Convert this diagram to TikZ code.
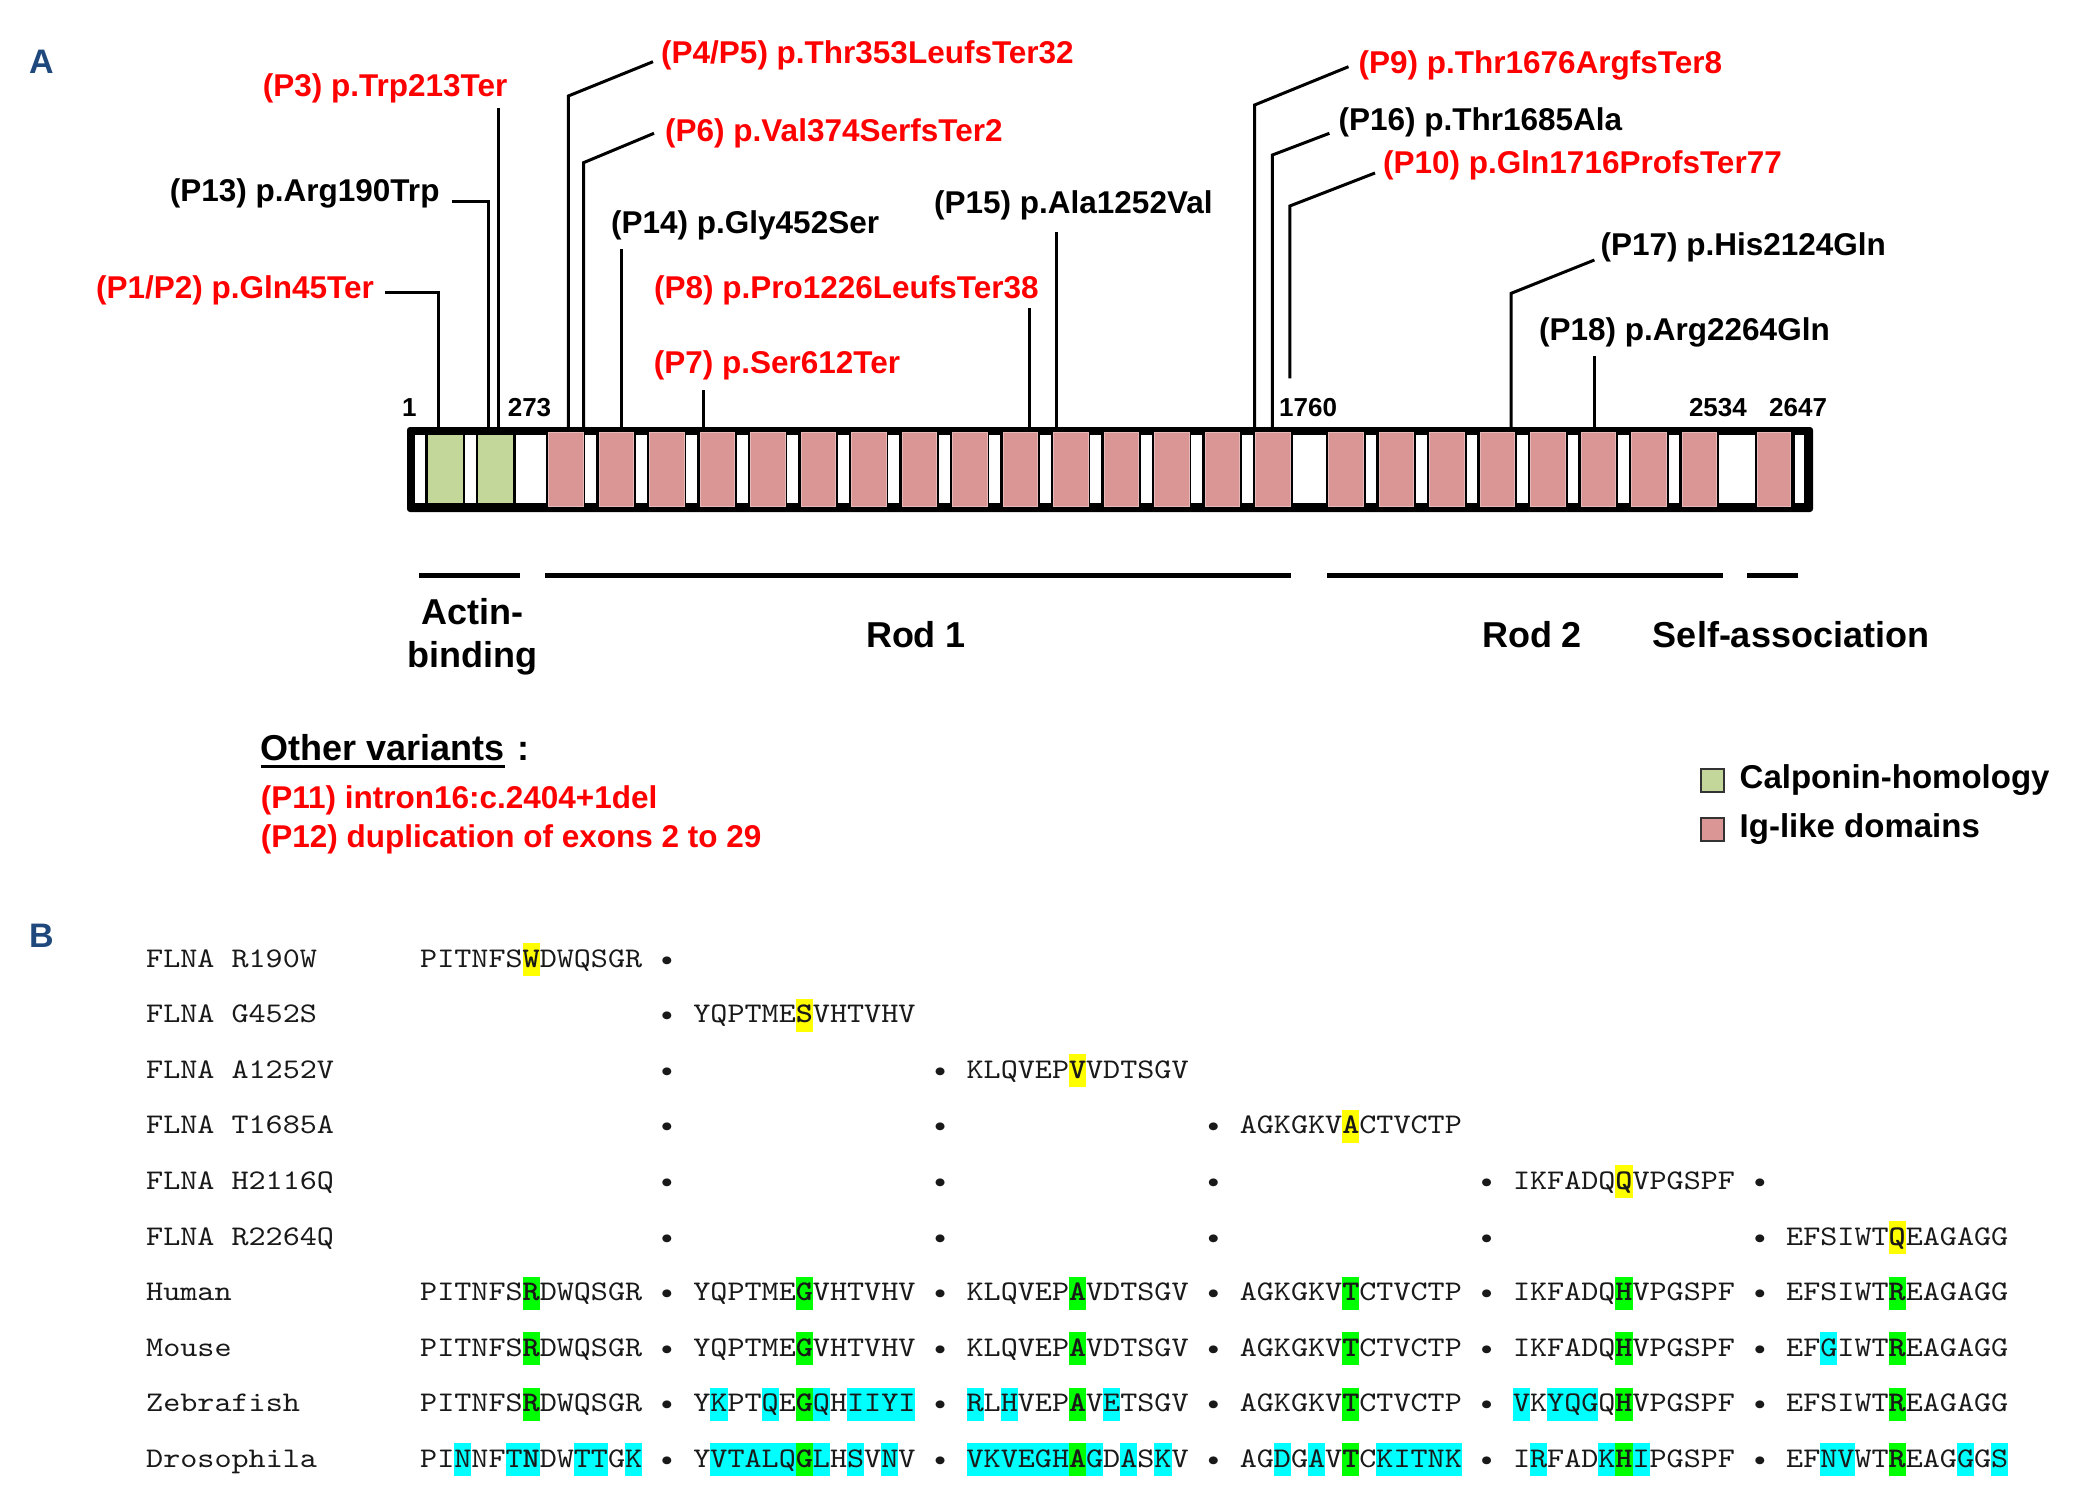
\documentclass[tikz,border=0pt]{standalone}
\usepackage{fontspec}
\setmainfont{Liberation Sans}
\newfontfamily\seqfont{lmmono10-regular}[Extension=.otf, BoldFont=lmmonolt10-bold, FakeStretch=1.143]
\usetikzlibrary{calc}
\usetikzlibrary{positioning}

\definecolor{chfill}{HTML}{C4D79B}
\definecolor{igfill}{HTML}{DA9694}
\definecolor{igedge}{HTML}{E6B8B7}
\definecolor{panelblue}{HTML}{1F497D}
\definecolor{mutred}{HTML}{FF0000}
\definecolor{hlyellow}{HTML}{FFFF00}
\definecolor{hlgreen}{HTML}{00FF00}
\definecolor{hlcyan}{HTML}{00FFFF}

% highlighted residues
\newcommand{\hlbox}[2]{{\setlength{\fboxsep}{0pt}\colorbox{#1}{\rule[-9pt]{0pt}{33pt}#2}}}
\newcommand{\hy}[1]{\hlbox{hlyellow}{\textbf{#1}}}
\newcommand{\hg}[1]{\hlbox{hlgreen}{\textbf{#1}}}
\newcommand{\hc}[1]{\hlbox{hlcyan}{#1}}
\newcommand{\hcb}[1]{\hlbox{hlcyan}{\textbf{#1}}}

\tikzset{
	mut/.style={font=\bfseries\fontsize{31.5}{36}\selectfont, inner sep=3pt},
	redmut/.style={mut, text=mutred},
	lead/.style={line width=3pt},
	posnum/.style={font=\bfseries\fontsize{26}{30}\selectfont, inner sep=0pt, anchor=base west},
	domlabel/.style={font=\bfseries\fontsize{36}{43}\selectfont, inner sep=0pt, align=center},
	domline/.style={line width=5.5pt},
	igbox/.style={fill=igfill, draw=igedge, line width=0.8pt},
	legbox/.style={draw=black!80, line width=2pt, minimum size=23pt, inner sep=0pt},
	legtxt/.style={font=\bfseries\fontsize{33}{38}\selectfont, inner sep=0pt, anchor=west},
	panel/.style={font=\bfseries\fontsize{34}{40}\selectfont, text=panelblue, inner sep=0pt, anchor=base west},
	seqtxt/.style={font=\seqfont\fontsize{28.46}{34}\selectfont, text=black!90, inner sep=0pt, anchor=base west},
	seqdot/.style={seqtxt, anchor=base},
}

% one full alignment row: prefix, baseline, name, six blocks
\newcommand{\alnrow}[9]{
	\node[seqtxt] (#1n) at (146,#2) {#3};
	\node[seqtxt] (#1a) at (420,#2) {#4};
	\node[seqtxt] (#1b) at (693.2,#2) {#5};
	\node[seqtxt] (#1c) at (966.4,#2) {#6};
	\node[seqtxt] (#1d) at (1239.6,#2) {#7};
	\node[seqtxt] (#1e) at (1512.8,#2) {#8};
	\node[seqtxt] (#1f) at (1786,#2) {#9};
	\foreach \k in {0,...,4}
		\node[seqdot] (#1dot\k) at ({667+273.2*\k},#2) {\textbullet};
}

\begin{document}
\begin{tikzpicture}[x=1pt, y=-1pt]
	\fill[white] (0,0) rectangle (2083,1494);
	\useasboundingbox (0,0) rectangle (2083,1494);

	\node[panel] (pA) at (29,73) {A};

	% protein bar
	\fill[black, rounded corners=3pt] (407,427) rectangle (1813,512);
	\fill[white] (415.2,435) rectangle (425.2,503.3);
	\fill[chfill] (427.8,435) rectangle (462.7,503.3);
	\fill[white] (465,435) rectangle (475.7,503.3);
	\fill[chfill] (478.4,435) rectangle (512.8,503.3);
	\fill[white] (515.5,435) rectangle (545.7,503.3);
	\foreach \k in {0,...,14}
		\filldraw[igbox] ({548.4+50.5*\k},432.7) rectangle ++(34.5,74);
	\foreach \k in {0,...,13}
		\fill[white] ({585.4+50.5*\k},435) rectangle ++(10.7,68.3);
	\fill[white] (1292.5,435) rectangle (1325.8,503.3);
	\foreach \k in {0,...,7}
		\filldraw[igbox] ({1328.5+50.5*\k},432.7) rectangle ++(34.5,74);
	\foreach \k in {0,...,6}
		\fill[white] ({1365.5+50.5*\k},435) rectangle ++(10.7,68.3);
	\fill[white] (1719.3,435) rectangle (1754.7,503.3);
	\filldraw[igbox] (1757.3,432.7) rectangle (1790.7,506.7);
	\fill[white] (1794.7,435) rectangle (1804,503.3);

	% positions on the bar
	\coordinate (m12) at (438.4,429);
	\coordinate (m13) at (488.8,429);
	\coordinate (m3) at (498.7,429);
	\coordinate (m45) at (568.3,429);
	\coordinate (m6) at (583.5,429);
	\coordinate (m14) at (621.9,429);
	\coordinate (m7) at (703.6,429);
	\coordinate (m8) at (1029.6,429);
	\coordinate (m15) at (1056.6,429);
	\coordinate (m9) at (1254.6,429);
	\coordinate (m16) at (1272.4,429);
	\coordinate (m10) at (1289.8,378.3);
	\coordinate (m17) at (1511.2,429);
	\coordinate (m18) at (1594.2,429);

	% variant labels
	\node[redmut, anchor=base east] (p12) at (377,298.3) {(P1/P2) p.Gln45Ter};
	\node[mut, anchor=base east] (p13) at (442.7,201.7) {(P13) p.Arg190Trp};
	\node[redmut, anchor=base east] (p3) at (510.6,96.7) {(P3) p.Trp213Ter};
	\node[redmut, anchor=base west] (p45) at (658,63.3) {(P4/P5) p.Thr353LeufsTer32};
	\node[redmut, anchor=base west] (p6) at (662,141.7) {(P6) p.Val374SerfsTer2};
	\node[mut, anchor=base west] (p14) at (608,233) {(P14) p.Gly452Ser};
	\node[mut, anchor=base west] (p15) at (931,213) {(P15) p.Ala1252Val};
	\node[redmut, anchor=base east] (p8) at (1041.8,298) {(P8) p.Pro1226LeufsTer38};
	\node[redmut, anchor=base west] (p7) at (650.6,373) {(P7) p.Ser612Ter};
	\node[redmut, anchor=base west] (p9) at (1355.5,73.3) {(P9) p.Thr1676ArgfsTer8};
	\node[mut, anchor=base west] (p16) at (1335.4,130) {(P16) p.Thr1685Ala};
	\node[redmut, anchor=base west] (p10) at (1380,173) {(P10) p.Gln1716ProfsTer77};
	\node[mut, anchor=base west] (p17) at (1597.4,255) {(P17) p.His2124Gln};
	\node[mut, anchor=base west] (p18) at (1536,340) {(P18) p.Arg2264Gln};

	% leader lines
	\draw[lead] (m12) |- ([shift={(8pt,5.6pt)}]p12.base east);
	\draw[lead] (m13) |- ([xshift=9pt]p13.base east);
	\draw[lead, shorten >=2pt] (m3) -- (m3 |- p3.south);
	\draw[lead] (m45) -- ++(0,-333) -- ([shift={(-5pt,1.6pt)}]p45.base west);
	\draw[lead] (m6) -- ++(0,-266.3) -- ([shift={(-8pt,8.4pt)}]p6.base west);
	\draw[lead, shorten >=6.7pt] (m14) -- (m14 |- p14.south);
	\draw[lead, shorten >=7.4pt] (m7) -- (m7 |- p7.south);
	\draw[lead, shorten >=0.4pt] (m8) -- (m8 |- p8.south);
	\draw[lead, shorten >=9pt] (m15) -- (m15 |- p15.south);
	\draw[lead] (m9) -- ++(0,-324) -- ([shift={(-7pt,6.6pt)}]p9.base west);
	\draw[lead] (m16) -- ++(0,-274) -- ([shift={(-6pt,-3.3pt)}]p16.base west);
	\draw[lead] (m10) -- ++(0,-172.3) -- ([xshift=-5pt]p10.base west);
	\draw[lead] (m17) -- ++(0,-135.7) -- ([shift={(-3pt,-5pt)}]p17.base west);
	\draw[lead, shorten >=6.4pt] (m18) -- (m18 |- p18.south);

	% residue numbers
	\node[posnum] (n1) at (401.8,416.7) {1};
	\node[posnum] (n273) at (507.6,416.7) {273};
	\node[posnum] (n1760) at (1279,416.7) {1760};
	\node[posnum] (n2534) at (1688.8,416.7) {2534};
	\node[posnum] (n2647) at (1769,416.7) {2647};

	% domains
	\draw[domline] (418.8,575.5) -- (519.8,575.5);
	\draw[domline] (545.3,575.5) -- (1291.2,575.5);
	\draw[domline] (1327,575.5) -- (1722.9,575.5);
	\draw[domline] (1747.4,575.5) -- (1798.4,575.5);
	\node[domlabel, anchor=north] (dact) at (472,598) {Actin-\\binding};
	\node[domlabel, anchor=base] (drod1) at (916,647) {Rod 1};
	\node[domlabel, anchor=base] (drod2) at (1532,647) {Rod 2};
	\node[domlabel, anchor=base] (dself) at (1791,647) {Self-association};

	% other variants
	\node[domlabel, anchor=base west] (ov) at (260.6,760) {Other variants};
	\draw[line width=3.3pt] ([yshift=-6.5pt]ov.base west) -- ([yshift=-6.5pt]ov.base east);
	\node[domlabel, anchor=base west] (ovc) at (517,760) {:};
	\node[redmut, anchor=base west] (p11) at (257.6,808) {(P11) intron16:c.2404+1del};
	\node[redmut, anchor=base west] (p12x) at (257.6,847) {(P12) duplication of exons 2 to 29};

	% legend
	\node[legbox, fill=chfill] (lgch) at (1712,780) {};
	\node[legtxt, right=15pt of lgch] (lgcht) {Calponin-homology};
	\node[legbox, fill=igfill] (lgig) at (1712,829) {};
	\node[legtxt, right=15pt of lgig] (lgigt) {Ig-like domains};

	\node[panel] (pB) at (29,947) {B};

	% variant rows
	\node[seqtxt] (v1n) at (146,967) {FLNA R190W};
	\node[seqtxt] (v1a) at (420,967) {PITNFS\hy{W}DWQSGR};
	\node[seqdot] (v1dot0) at (667,967) {\textbullet};

	\node[seqtxt] (v2n) at (146,1022.6) {FLNA G452S};
	\node[seqdot] (v2dot0) at (667,1022.6) {\textbullet};
	\node[seqtxt] (v2b) at (693.2,1022.6) {YQPTME\hy{S}VHTVHV};

	\node[seqtxt] (v3n) at (146,1078.2) {FLNA A1252V};
	\foreach \k in {0,1}
		\node[seqdot] (v3dot\k) at ({667+273.2*\k},1078.2) {\textbullet};
	\node[seqtxt] (v3c) at (966.4,1078.2) {KLQVEP\hy{V}VDTSGV};

	\node[seqtxt] (v4n) at (146,1133.8) {FLNA T1685A};
	\foreach \k in {0,1,2}
		\node[seqdot] (v4dot\k) at ({667+273.2*\k},1133.8) {\textbullet};
	\node[seqtxt] (v4d) at (1239.6,1133.8) {AGKGKV\hy{A}CTVCTP};

	\node[seqtxt] (v5n) at (146,1189.4) {FLNA H2116Q};
	\foreach \k in {0,...,4}
		\node[seqdot] (v5dot\k) at ({667+273.2*\k},1189.4) {\textbullet};
	\node[seqtxt] (v5e) at (1512.8,1189.4) {IKFADQ\hy{Q}VPGSPF};

	\node[seqtxt] (v6n) at (146,1245) {FLNA R2264Q};
	\foreach \k in {0,...,4}
		\node[seqdot] (v6dot\k) at ({667+273.2*\k},1245) {\textbullet};
	\node[seqtxt] (v6f) at (1786,1245) {EFSIWT\hy{Q}EAGAGG};

	% species rows
	\alnrow{hs}{1300.6}{Human}{PITNFS\hg{R}DWQSGR}{YQPTME\hg{G}VHTVHV}{KLQVEP\hg{A}VDTSGV}{AGKGKV\hg{T}CTVCTP}{IKFADQ\hg{H}VPGSPF}{EFSIWT\hg{R}EAGAGG}
	\alnrow{mm}{1356.2}{Mouse}{PITNFS\hg{R}DWQSGR}{YQPTME\hg{G}VHTVHV}{KLQVEP\hg{A}VDTSGV}{AGKGKV\hg{T}CTVCTP}{IKFADQ\hg{H}VPGSPF}{EF\hc{G}IWT\hg{R}EAGAGG}
	\alnrow{dr}{1411.8}{Zebrafish}{PITNFS\hg{R}DWQSGR}{Y\hc{K}PT\hc{Q}E\hg{G}\hc{Q}H\hc{IIYI}}{\hc{R}L\hc{H}VEP\hg{A}V\hc{E}TSGV}{AGKGKV\hg{T}CTVCTP}{\hc{V}K\hc{YQG}Q\hg{H}VPGSPF}{EFSIWT\hg{R}EAGAGG}
	\alnrow{dm}{1467.4}{Drosophila}{PI\hc{N}NF\hc{T}\hcb{N}DW\hc{TT}G\hc{K}}{Y\hc{VTALQ}\hg{G}\hc{L}H\hc{S}V\hc{N}V}{\hc{VKVEGH}\hg{A}\hc{G}D\hc{A}S\hc{K}V}{AG\hc{D}G\hc{A}V\hg{T}C\hc{KITNK}}{I\hc{R}FAD\hc{K}\hg{H}\hc{I}PGSPF}{EF\hc{NV}WT\hg{R}EAG\hc{G}G\hc{S}}
\end{tikzpicture}
\end{document}
